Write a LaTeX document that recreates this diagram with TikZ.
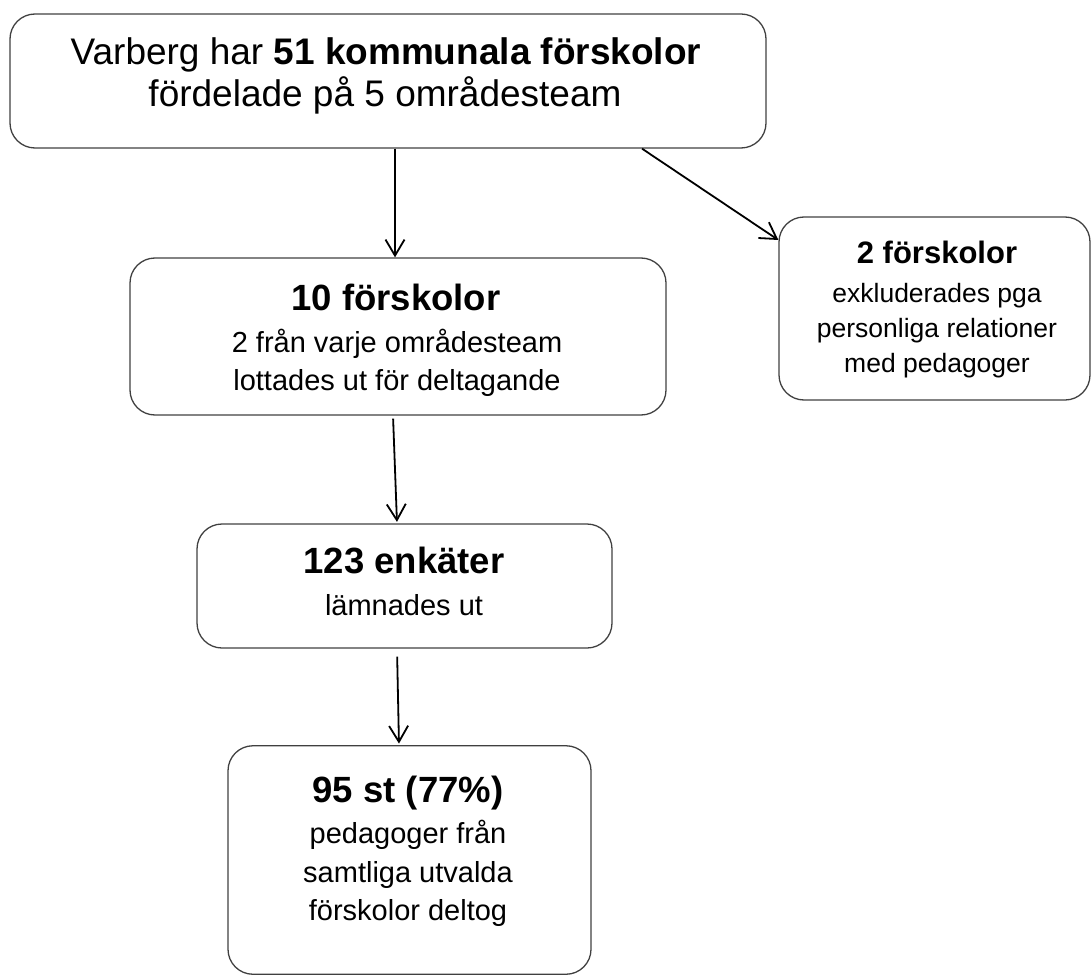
\documentclass[tikz,border=0pt]{standalone}
\usepackage{fontspec}
\setmainfont{Liberation Sans}
\usetikzlibrary{arrows.meta}
\tikzset{
  box/.style={draw=black!75, line width=1.3pt, rounded corners=25pt, inner sep=0pt, fill=none},
  arr/.style={-{Straight Barb[length=16pt,width=19pt]}, line width=1.8pt, draw=black},
  txt/.style={anchor=base, inner sep=0pt},
  big/.style={font=\fontsize{37}{44}\selectfont},
  head/.style={font=\fontsize{36.5}{44}\selectfont\bfseries},
  body/.style={font=\fontsize{29}{35}\selectfont},
  headsm/.style={font=\fontsize{31}{37}\selectfont\bfseries},
  bodysm/.style={font=\fontsize{26.5}{32}\selectfont},
}
\begin{document}
\begin{tikzpicture}[x=1pt,y=-1pt]
\useasboundingbox (0,0) rectangle (1091,976);
% boxes
\node[box, minimum width=756pt, minimum height=134pt] (b1) at (388,81) {};
\node[box, minimum width=536pt, minimum height=157pt] (b2) at (398,336.5) {};
\node[box, minimum width=311pt, minimum height=183pt] (b3) at (934.5,308.5) {};
\node[box, minimum width=415pt, minimum height=124pt] (b4) at (404.5,586) {};
\node[box, minimum width=363pt, minimum height=228.5pt] (b5) at (409.5,860) {};
% texts
\node[txt, big] (t1a) at (386,65) {Varberg har \textbf{51 kommunala förskolor}};
\node[txt, big] (t1b) at (385,107) {fördelade på 5 områdesteam};
\node[txt, head] (t2a) at (396,310) {10 förskolor};
\node[txt, body] (t2b) at (397,352) {2 från varje områdesteam};
\node[txt, body] (t2c) at (397,390) {lottades ut för deltagande};
\node[txt, headsm] (t3a) at (937,263) {2 förskolor};
\node[txt, bodysm] (t3b) at (937,302) {exkluderades pga};
\node[txt, bodysm] (t3c) at (937,337) {personliga relationer};
\node[txt, bodysm] (t3d) at (937,372) {med pedagoger};
\node[txt, head] (t4a) at (404,573) {123 enkäter};
\node[txt, body] (t4b) at (404,615) {lämnades ut};
\node[txt, head] (t5a) at (408,802) {95 st (77\%)};
\node[txt, body] (t5b) at (408,843) {pedagoger från};
\node[txt, body] (t5c) at (408,882) {samtliga utvalda};
\node[txt, body] (t5d) at (408,920) {förskolor deltog};
% connector anchors
\coordinate (x1) at (395,0);
\coordinate (xd) at (642,0);
\coordinate (yd) at (0,240);
\coordinate (x3a) at (393,0);
\coordinate (x3b) at (397,0);
\coordinate (x4a) at (397,0);
\coordinate (x4b) at (399,0);
% connectors
\draw[arr] (b1.south -| x1) -- (b2.north -| x1);
\draw[arr] (b1.south -| xd) -- (b3.west |- yd);
\draw[arr, shorten <=3pt, shorten >=1.5pt] (b2.south -| x3a) -- (b4.north -| x3b);
\draw[arr, shorten <=8pt, shorten >=1.5pt] (b4.south -| x4a) -- (b5.north -| x4b);
\end{tikzpicture}
\end{document}
